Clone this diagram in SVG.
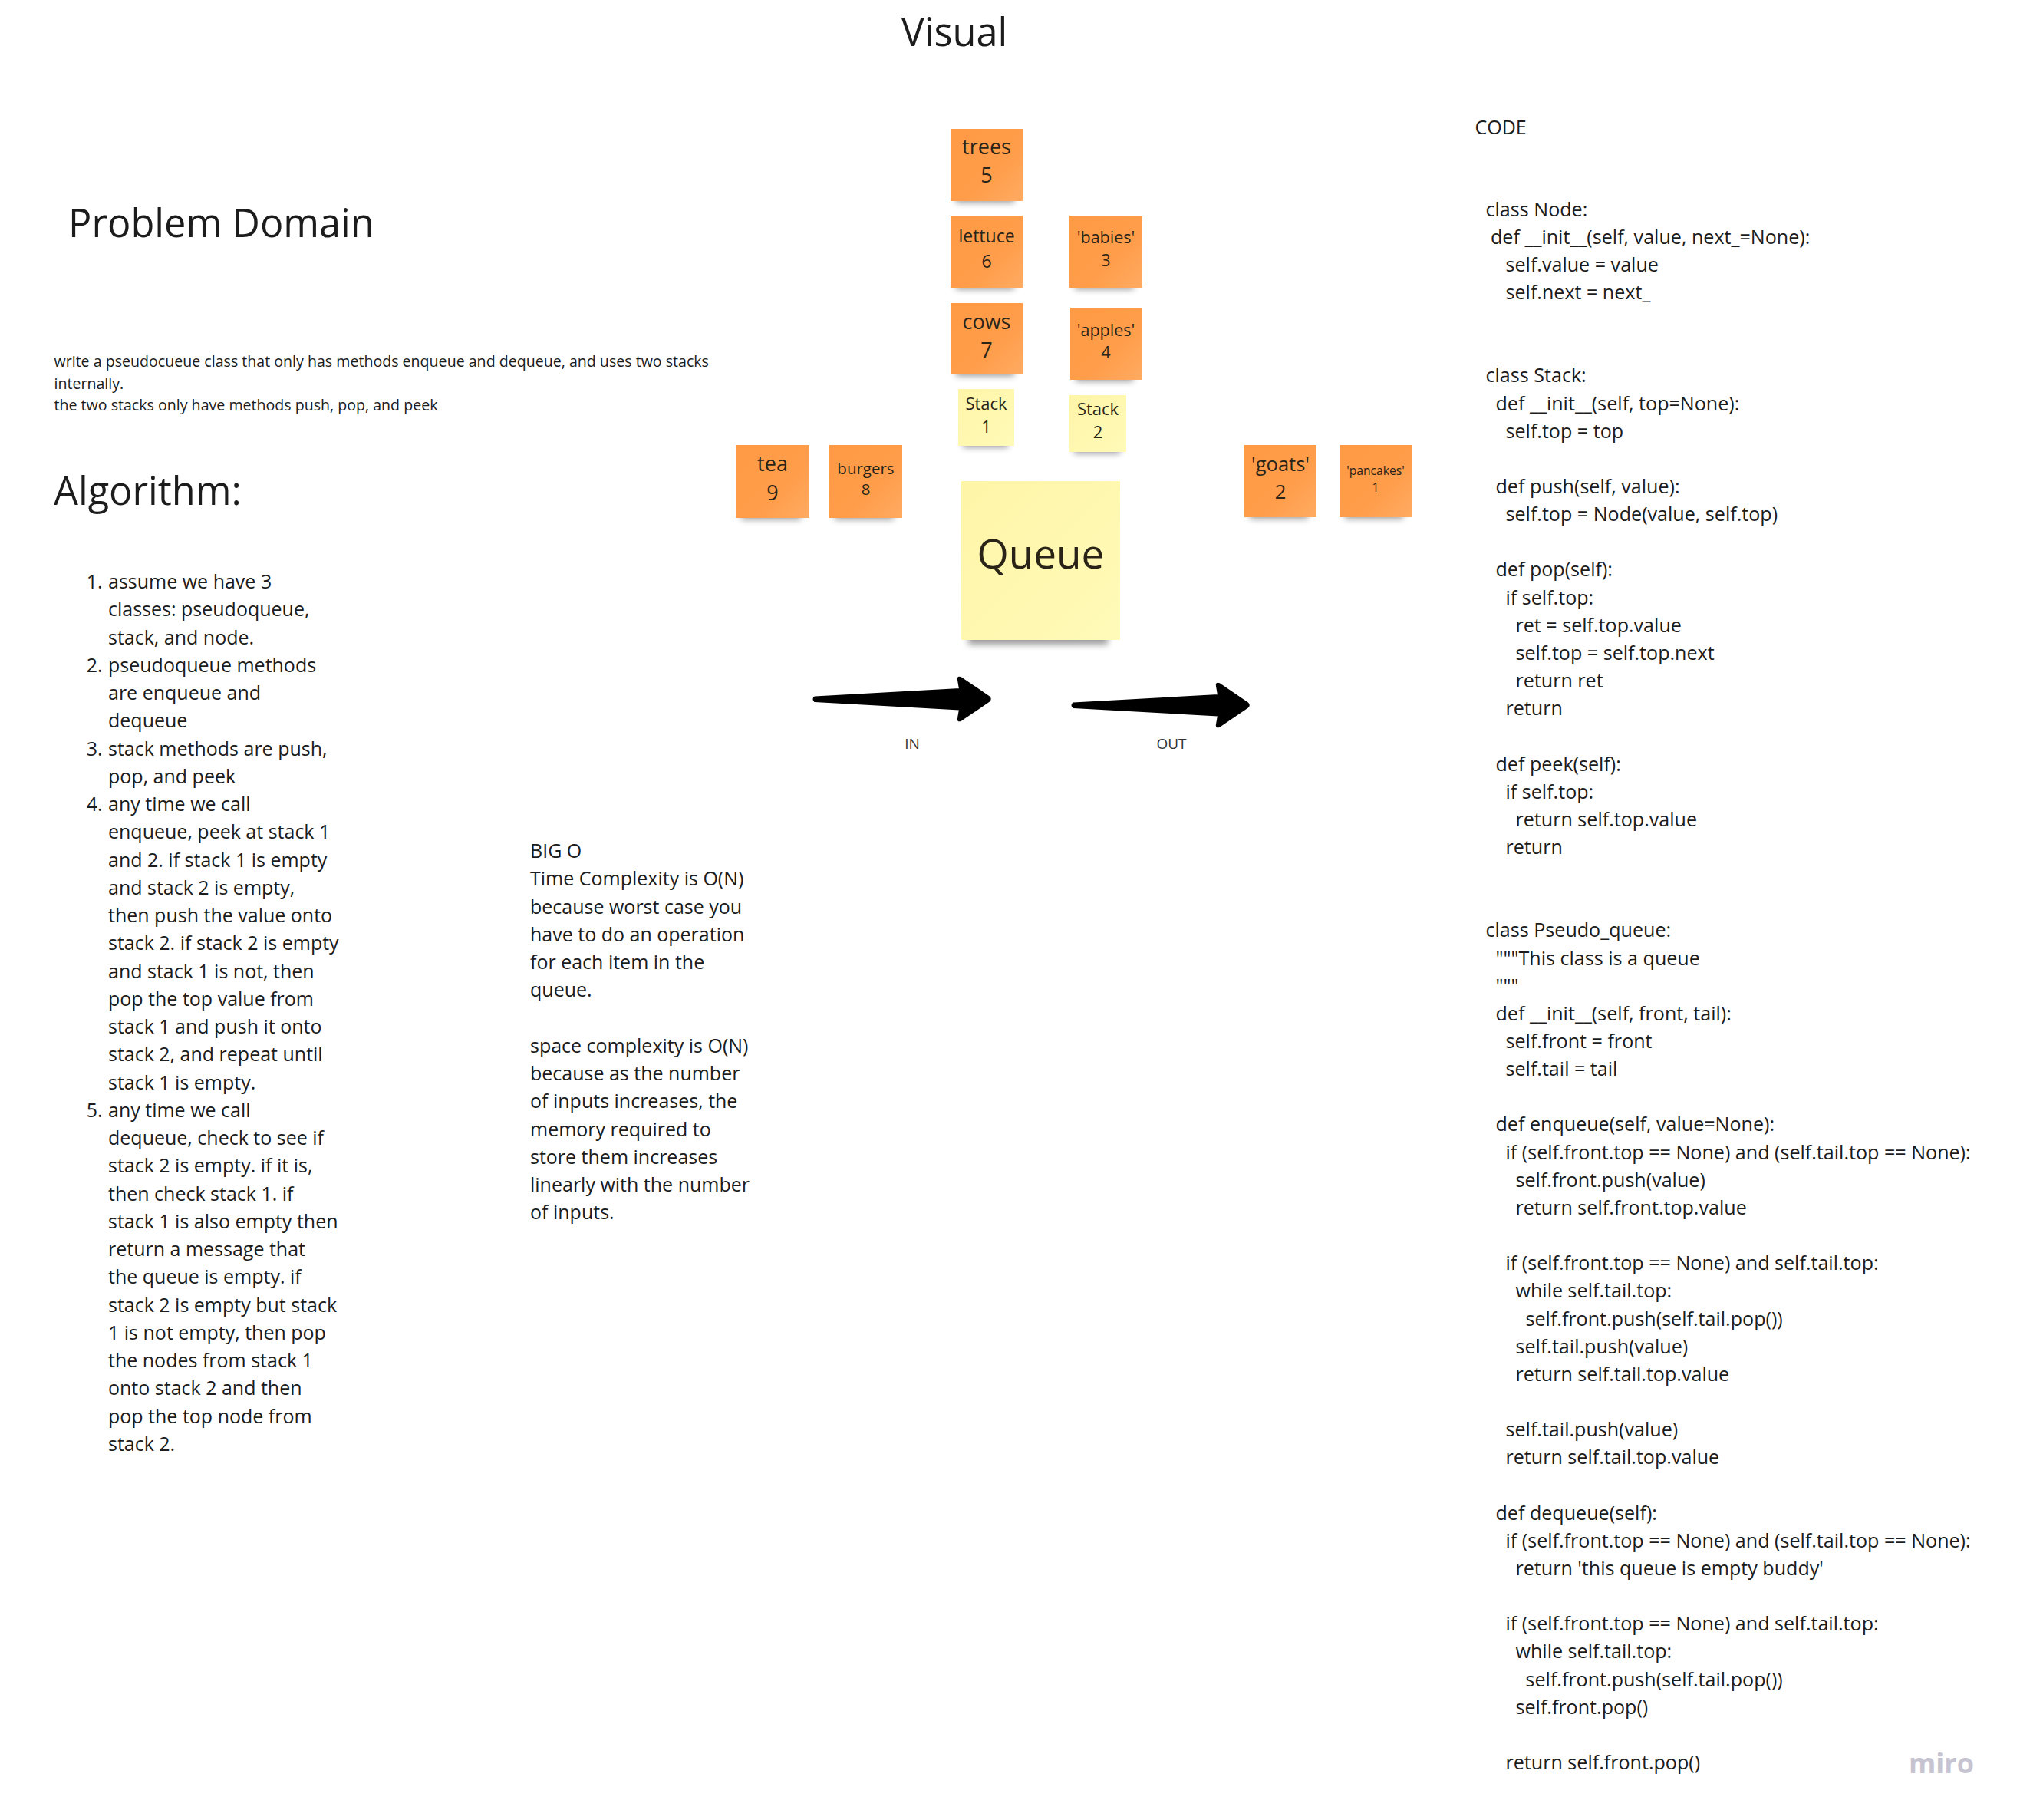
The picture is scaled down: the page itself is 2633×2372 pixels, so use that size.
<svg xmlns="http://www.w3.org/2000/svg" width="2633" height="2372" viewBox="0 0 2633 2372">
<defs>
<linearGradient id="gOr" x1="0" y1="0" x2="1" y2="1">
<stop offset="0" stop-color="#ff9a45"/><stop offset="0.6" stop-color="#ff9d4a"/><stop offset="1" stop-color="#ffab62"/>
</linearGradient>
<linearGradient id="gYe" x1="0" y1="0" x2="1" y2="1">
<stop offset="0" stop-color="#fff5a8"/><stop offset="1" stop-color="#fffab8"/>
</linearGradient>
<filter id="blur" x="-30%" y="-100%" width="160%" height="300%"><feGaussianBlur stdDeviation="4"/></filter>
</defs>
<style>
text{font-family:"Open Sans","Liberation Sans",sans-serif;fill:#1c1c1c}
.h{font-size:50.5px}
.body{font-size:25px}
.code{font-size:25.1px}
.small{font-size:19.6px}
.nt{text-anchor:middle;fill:#2a2418}
.sh{fill:#000;opacity:.4;filter:url(#blur)}
.or{fill:url(#gOr)}
.ye{fill:url(#gYe)}
.arrow{fill:#000;stroke:#000;stroke-width:2;stroke-linejoin:round}
.lbl{font-size:19px;text-anchor:middle;fill:#333}
.miro{font-size:36px;font-weight:bold;fill:#c6c4d1}
</style>
<rect width="2633" height="2372" fill="#ffffff"/>

<g id="titles">
<text class="h" x="1244" y="60" text-anchor="middle">Visual</text>
<text class="h" x="89" y="309">Problem Domain</text>
<text class="h" x="70" y="658">Algorithm:</text>
<text class="body" x="1922.5" y="175">CODE</text>
</g>

<g id="problem-text">
<text class="small">
<tspan x="70.5" y="478">write a pseudocueue class that only has methods enqueue and dequeue, and uses two stacks</tspan>
<tspan x="70.5" y="506.5">internally.</tspan>
<tspan x="70.5" y="535">the two stacks only have methods push, pop, and peek</tspan>
</text>
</g>

<g id="algorithm">
<text class="body">
<tspan x="112.7" y="767">1.</tspan>
<tspan x="112.7" y="875.75">2.</tspan>
<tspan x="112.7" y="984.5">3.</tspan>
<tspan x="112.7" y="1057">4.</tspan>
<tspan x="112.7" y="1455.75">5.</tspan>
</text>
<text class="body">
<tspan x="141" y="767">assume we have 3</tspan>
<tspan x="141" y="803.25">classes: pseudoqueue,</tspan>
<tspan x="141" y="839.5">stack, and node.</tspan>
<tspan x="141" y="875.75">pseudoqueue methods</tspan>
<tspan x="141" y="912">are enqueue and</tspan>
<tspan x="141" y="948.25">dequeue</tspan>
<tspan x="141" y="984.5">stack methods are push,</tspan>
<tspan x="141" y="1020.75">pop, and peek</tspan>
<tspan x="141" y="1057">any time we call</tspan>
<tspan x="141" y="1093.25">enqueue, peek at stack 1</tspan>
<tspan x="141" y="1129.5">and 2. if stack 1 is empty</tspan>
<tspan x="141" y="1165.75">and stack 2 is empty,</tspan>
<tspan x="141" y="1202">then push the value onto</tspan>
<tspan x="141" y="1238.25">stack 2. if stack 2 is empty</tspan>
<tspan x="141" y="1274.5">and stack 1 is not, then</tspan>
<tspan x="141" y="1310.75">pop the top value from</tspan>
<tspan x="141" y="1347">stack 1 and push it onto</tspan>
<tspan x="141" y="1383.25">stack 2, and repeat until</tspan>
<tspan x="141" y="1419.5">stack 1 is empty.</tspan>
<tspan x="141" y="1455.75">any time we call</tspan>
<tspan x="141" y="1492">dequeue, check to see if</tspan>
<tspan x="141" y="1528.25">stack 2 is empty. if it is,</tspan>
<tspan x="141" y="1564.5">then check stack 1. if</tspan>
<tspan x="141" y="1600.75">stack 1 is also empty then</tspan>
<tspan x="141" y="1637">return a message that</tspan>
<tspan x="141" y="1673.25">the queue is empty. if</tspan>
<tspan x="141" y="1709.5">stack 2 is empty but stack</tspan>
<tspan x="141" y="1745.75">1 is not empty, then pop</tspan>
<tspan x="141" y="1782">the nodes from stack 1</tspan>
<tspan x="141" y="1818.25">onto stack 2 and then</tspan>
<tspan x="141" y="1854.5">pop the top node from</tspan>
<tspan x="141" y="1890.75">stack 2.</tspan>
</text>
</g>

<g id="big-o">
<text class="body">
<tspan x="691" y="1118">BIG O</tspan>
<tspan x="691" y="1154.25">Time Complexity is O(N)</tspan>
<tspan x="691" y="1190.5">because worst case you</tspan>
<tspan x="691" y="1226.75">have to do an operation</tspan>
<tspan x="691" y="1263">for each item in the</tspan>
<tspan x="691" y="1299.25">queue.</tspan>
<tspan x="691" y="1371.75">space complexity is O(N)</tspan>
<tspan x="691" y="1408">because as the number</tspan>
<tspan x="691" y="1444.25">of inputs increases, the</tspan>
<tspan x="691" y="1480.5">memory required to</tspan>
<tspan x="691" y="1516.75">store them increases</tspan>
<tspan x="691" y="1553">linearly with the number</tspan>
<tspan x="691" y="1589.25">of inputs.</tspan>
</text>
</g>

<g id="code">
<text class="code">
<tspan x="1936.5" y="281.5">class Node:</tspan>
<tspan x="1943" y="317.6">def __init__(self, value, next_=None):</tspan>
<tspan x="1962.5" y="353.8">self.value = value</tspan>
<tspan x="1962.5" y="389.9">self.next = next_</tspan>
<tspan x="1936.5" y="498.4">class Stack:</tspan>
<tspan x="1949.5" y="534.5">def __init__(self, top=None):</tspan>
<tspan x="1962.5" y="570.7">self.top = top</tspan>
<tspan x="1949.5" y="643">def push(self, value):</tspan>
<tspan x="1962.5" y="679.1">self.top = Node(value, self.top)</tspan>
<tspan x="1949.5" y="751.4">def pop(self):</tspan>
<tspan x="1962.5" y="787.6">if self.top:</tspan>
<tspan x="1975.5" y="823.7">ret = self.top.value</tspan>
<tspan x="1975.5" y="859.9">self.top = self.top.next</tspan>
<tspan x="1975.5" y="896">return ret</tspan>
<tspan x="1962.5" y="932.2">return</tspan>
<tspan x="1949.5" y="1004.5">def peek(self):</tspan>
<tspan x="1962.5" y="1040.6">if self.top:</tspan>
<tspan x="1975.5" y="1076.8">return self.top.value</tspan>
<tspan x="1962.5" y="1112.9">return</tspan>
<tspan x="1936.5" y="1221.4">class Pseudo_queue:</tspan>
<tspan x="1949.5" y="1257.5">"""This class is a queue</tspan>
<tspan x="1949.5" y="1293.7">"""</tspan>
<tspan x="1949.5" y="1329.8">def __init__(self, front, tail):</tspan>
<tspan x="1962.5" y="1366">self.front = front</tspan>
<tspan x="1962.5" y="1402.1">self.tail = tail</tspan>
<tspan x="1949.5" y="1474.4">def enqueue(self, value=None):</tspan>
<tspan x="1962.5" y="1510.6">if (self.front.top == None) and (self.tail.top == None):</tspan>
<tspan x="1975.5" y="1546.7">self.front.push(value)</tspan>
<tspan x="1975.5" y="1582.9">return self.front.top.value</tspan>
<tspan x="1962.5" y="1655.2">if (self.front.top == None) and self.tail.top:</tspan>
<tspan x="1975.5" y="1691.4">while self.tail.top:</tspan>
<tspan x="1988.5" y="1727.5">self.front.push(self.tail.pop())</tspan>
<tspan x="1975.5" y="1763.7">self.tail.push(value)</tspan>
<tspan x="1975.5" y="1799.8">return self.tail.top.value</tspan>
<tspan x="1962.5" y="1872.1">self.tail.push(value)</tspan>
<tspan x="1962.5" y="1908.3">return self.tail.top.value</tspan>
<tspan x="1949.5" y="1980.6">def dequeue(self):</tspan>
<tspan x="1962.5" y="2016.7">if (self.front.top == None) and (self.tail.top == None):</tspan>
<tspan x="1975.5" y="2052.9">return 'this queue is empty buddy'</tspan>
<tspan x="1962.5" y="2125.2">if (self.front.top == None) and self.tail.top:</tspan>
<tspan x="1975.5" y="2161.3">while self.tail.top:</tspan>
<tspan x="1988.5" y="2197.5">self.front.push(self.tail.pop())</tspan>
<tspan x="1975.5" y="2233.6">self.front.pop()</tspan>
<tspan x="1962.5" y="2305.9">return self.front.pop()</tspan>
</text>
</g>

<g id="note-trees">
<rect class="sh" x="1246" y="252" width="76" height="12"/>
<rect class="or" x="1239" y="168" width="94" height="94"/>
<text class="nt" x="1286" y="201" font-size="27">trees</text>
<text class="nt" x="1286" y="238" font-size="27">5</text>
</g>
<g id="note-lettuce">
<rect class="sh" x="1246" y="365" width="76" height="12"/>
<rect class="or" x="1239" y="281" width="94" height="94"/>
<text class="nt" x="1286" y="316" font-size="23">lettuce</text>
<text class="nt" x="1286" y="348.5" font-size="23">6</text>
</g>
<g id="note-cows">
<rect class="sh" x="1246" y="478" width="76" height="12"/>
<rect class="or" x="1239" y="395" width="94" height="93"/>
<text class="nt" x="1286" y="428.5" font-size="27">cows</text>
<text class="nt" x="1286" y="466" font-size="27">7</text>
</g>
<g id="note-babies">
<rect class="sh" x="1401" y="365" width="77" height="12"/>
<rect class="or" x="1394" y="281" width="95" height="94"/>
<text class="nt" x="1441.5" y="317" font-size="21.5">'babies'</text>
<text class="nt" x="1441.5" y="347" font-size="21.5">3</text>
</g>
<g id="note-apples">
<rect class="sh" x="1402" y="485" width="75" height="12"/>
<rect class="or" x="1395" y="401" width="93" height="94"/>
<text class="nt" x="1441.5" y="437.5" font-size="21.5">'apples'</text>
<text class="nt" x="1441.5" y="467" font-size="21.5">4</text>
</g>
<g id="note-stack1">
<rect class="sh" x="1255" y="572" width="59" height="11"/>
<rect class="ye" x="1249" y="507" width="73" height="74"/>
<text class="nt" x="1285.5" y="533.5" font-size="22">Stack</text>
<text class="nt" x="1285.5" y="564" font-size="22">1</text>
</g>
<g id="note-stack2">
<rect class="sh" x="1400" y="580" width="60" height="11"/>
<rect class="ye" x="1394" y="515" width="74" height="74"/>
<text class="nt" x="1431" y="541" font-size="22">Stack</text>
<text class="nt" x="1431" y="571" font-size="22">2</text>
</g>
<g id="note-tea">
<rect class="sh" x="966" y="665" width="78" height="12"/>
<rect class="or" x="959" y="580" width="96" height="95"/>
<text class="nt" x="1007" y="614" font-size="27">tea</text>
<text class="nt" x="1007" y="652" font-size="27">9</text>
</g>
<g id="note-burgers">
<rect class="sh" x="1088" y="665" width="77" height="12"/>
<rect class="or" x="1081" y="580" width="95" height="95"/>
<text class="nt" x="1128.5" y="617.5" font-size="20.5">burgers</text>
<text class="nt" x="1128.5" y="645" font-size="20.5">8</text>
</g>
<g id="note-goats">
<rect class="sh" x="1629" y="664" width="76" height="12"/>
<rect class="or" x="1622" y="580" width="94" height="94"/>
<text class="nt" x="1669" y="614" font-size="25.5">'goats'</text>
<text class="nt" x="1669" y="649.5" font-size="25.5">2</text>
</g>
<g id="note-pancakes">
<rect class="sh" x="1753" y="664" width="76" height="12"/>
<rect class="or" x="1746" y="580" width="94" height="94"/>
<text class="nt" x="1793" y="619" font-size="15.7">'pancakes'</text>
<text class="nt" x="1793" y="641" font-size="15.7">1</text>
</g>
<g id="note-queue">
<rect class="sh" x="1262" y="822" width="182" height="18"/>
<rect class="ye" x="1253" y="627" width="207" height="207"/>
<text class="nt" x="1356.5" y="741" font-size="53" fill="#111">Queue</text>
</g>

<g id="connectors">
<path id="arrow-in" class="arrow" d="M1062,908.5 L1251,898 L1249,886 Q1248,881 1253,883.5 L1289,908 Q1292.5,911 1289,914 L1253,938.5 Q1248,941 1249,936 L1251,924.5 L1062,914 Q1059,911 1062,908.5 Z"/>
<path id="arrow-out" class="arrow" transform="translate(337,8)" d="M1062,908.5 L1251,898 L1249,886 Q1248,881 1253,883.5 L1289,908 Q1292.5,911 1289,914 L1253,938.5 Q1248,941 1249,936 L1251,924.5 L1062,914 Q1059,911 1062,908.5 Z"/>
</g>
<g id="labels">
<text class="lbl" x="1189" y="976">IN</text>
<text class="lbl" x="1527" y="976">OUT</text>
</g>

<g id="logo">
<text class="miro" x="2488" y="2311">miro</text>
</g>
</svg>
